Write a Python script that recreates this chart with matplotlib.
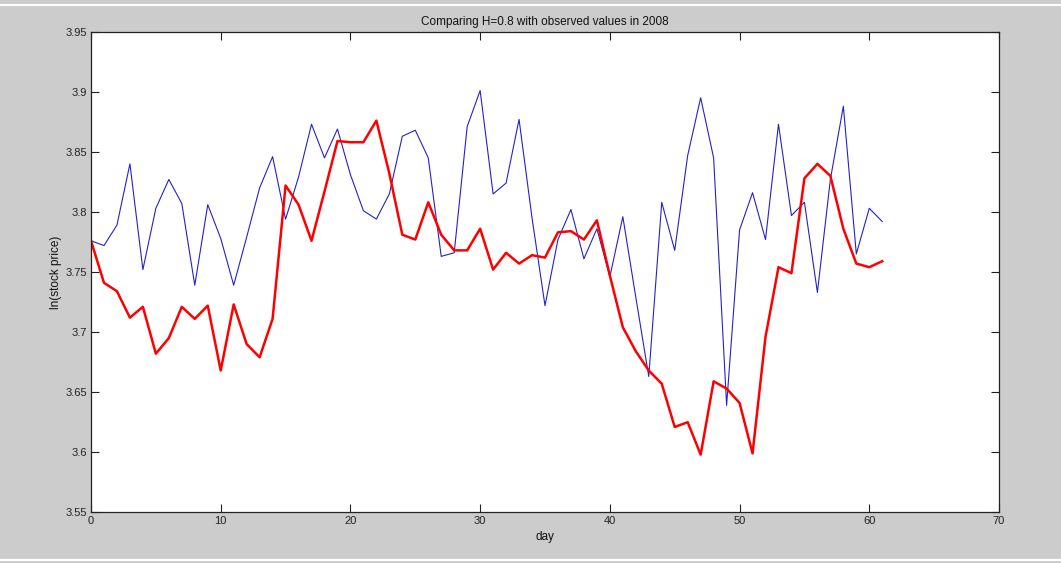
import matplotlib
matplotlib.use("Agg")
import matplotlib.pyplot as plt
from matplotlib.lines import Line2D

days = list(range(62))
simulated = [3.776, 3.772, 3.789, 3.840, 3.752, 3.803, 3.827, 3.807, 3.739, 3.806,
             3.778, 3.739, 3.779, 3.820, 3.846, 3.794, 3.829, 3.873, 3.845, 3.869,
             3.831, 3.801, 3.794, 3.815, 3.863, 3.868, 3.845, 3.763, 3.766, 3.871,
             3.901, 3.815, 3.824, 3.877, 3.795, 3.722, 3.777, 3.802, 3.761, 3.786,
             3.746, 3.796, 3.729, 3.663, 3.808, 3.768, 3.847, 3.895, 3.845, 3.639,
             3.785, 3.816, 3.777, 3.873, 3.797, 3.808, 3.733, 3.827, 3.888, 3.765,
             3.803, 3.792]
observed = [3.776, 3.741, 3.734, 3.712, 3.721, 3.682, 3.695, 3.721, 3.711, 3.722,
            3.668, 3.723, 3.690, 3.679, 3.711, 3.822, 3.806, 3.776, 3.817, 3.859,
            3.858, 3.858, 3.876, 3.832, 3.781, 3.777, 3.808, 3.781, 3.768, 3.768,
            3.786, 3.752, 3.766, 3.757, 3.764, 3.762, 3.783, 3.784, 3.777, 3.793,
            3.747, 3.704, 3.684, 3.668, 3.657, 3.621, 3.625, 3.598, 3.659, 3.653,
            3.641, 3.599, 3.696, 3.754, 3.749, 3.828, 3.840, 3.830, 3.786, 3.757,
            3.754, 3.759]
xticks = [0, 10, 20, 30, 40, 50, 60, 70]
yticks = [3.55, 3.6, 3.65, 3.7, 3.75, 3.8, 3.85, 3.9, 3.95]
ytick_labels = ["3.55", "3.6", "3.65", "3.7", "3.75", "3.8", "3.85", "3.9", "3.95"]

plt.rcParams['font.family'] = ['Liberation Sans Narrow', 'Liberation Sans', 'DejaVu Sans']

fig = plt.figure(figsize=(10.61, 5.63), dpi=100, facecolor='#cccccc')
ax = fig.add_axes([91/1061, 1 - 512.3/563, (999-91)/1061, (512.3-31.7)/563])
ax.set_facecolor('white')

ax.plot(days, simulated, color='#2222cc', lw=0.8)
ax.plot(days, observed, color='#ff0000', lw=1.8)

ax.set_xlim(0, 70)
ax.set_ylim(3.55, 3.95)
ax.set_xticks(xticks)
ax.set_xticklabels([str(t) for t in xticks])
ax.set_yticks(yticks)
ax.set_yticklabels(ytick_labels)
ax.tick_params(direction='in', length=6, width=0.8, top=True, right=True,
               labelsize=8, colors='#222222', pad=3)
for s in ax.spines.values():
    s.set_linewidth(0.9)
    s.set_color('#222222')

ax.set_title('Comparing H=0.8 with observed values in 2008', fontsize=8.5, pad=5, color='#111111')
ax.set_xlabel('day', fontsize=8.5, labelpad=3, color='#111111')
ax.set_ylabel('ln(stock price)', fontsize=8.5, labelpad=2, color='#111111')

fig.add_artist(Line2D([0, 1], [1 - 4.5/563, 1 - 4.5/563], color='white', lw=1.5, transform=fig.transFigure))
fig.add_artist(Line2D([0, 1], [1 - 559.5/563, 1 - 559.5/563], color='white', lw=1.5, transform=fig.transFigure))

fig.savefig('out.png', dpi=100, facecolor=fig.get_facecolor())
